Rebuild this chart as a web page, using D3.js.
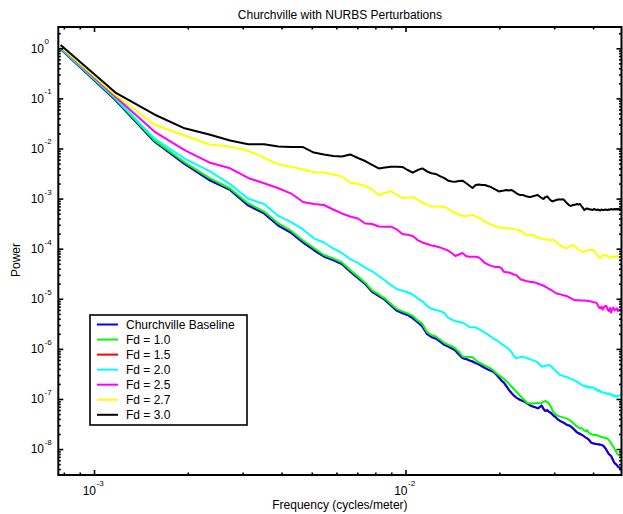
<!DOCTYPE html>
<html>
<head>
<meta charset="utf-8">
<script src="https://cdn.jsdelivr.net/npm/d3@7"></script>
<style>
  body { margin: 0; background: #fff; }
  text { font-family: "Liberation Sans", Arial, Helvetica, sans-serif; fill: #000; }
</style>
</head>
<body>
<svg id="chart" width="623" height="514"></svg>
<script>
// Data ---------------------------------------------------------------------------------------

// spectrum bins 2..126, one bin = 1/2560 cycles/meter
var bins = d3.range(2, 127);
var binWidth = 1 / 2560;
var frequency = bins.map(function(n) { return n * binWidth; });

var baseline = [
  0.97, 0.093, 0.0138, 0.0049, 0.00235, 0.00149, 7.3e-4, 5.05e-4, 2.9e-4, 2.06e-4, 1.33e-4,
  9.4e-5, 7.0e-5, 5.9e-5, 4.95e-5, 3.5e-5, 2.6e-5, 1.97e-5, 1.37e-5, 1.14e-5, 9.5e-6,
  7.35e-6, 5.8e-6, 5.2e-6, 4.75e-6, 4.1e-6, 3.4e-6, 2.8e-6, 1.98e-6, 1.73e-6, 1.61e-6,
  1.41e-6, 1.22e-6, 1.12e-6, 1.02e-6, 9.3e-7, 7.7e-7, 6.6e-7, 6.3e-7, 5.9e-7, 5.6e-7,
  5.2e-7, 4.9e-7, 4.5e-7, 4.2e-7, 3.9e-7, 3.7e-7, 3.5e-7, 3.1e-7, 2.7e-7, 2.35e-7,
  2.1e-7, 1.78e-7, 1.51e-7, 1.32e-7, 1.17e-7, 1.07e-7, 1.0e-7, 9.5e-8, 9.1e-8, 8.7e-8,
  8.1e-8, 7.6e-8, 7.2e-8, 7.0e-8, 6.8e-8, 6.5e-8, 6.9e-8, 7.4e-8, 6.3e-8, 5.75e-8,
  6.0e-8, 5.5e-8, 5.3e-8, 4.8e-8, 4.5e-8, 4.2e-8, 3.9e-8, 3.7e-8, 3.55e-8, 3.4e-8,
  3.25e-8, 3.1e-8, 3.0e-8, 2.95e-8, 2.8e-8, 2.65e-8, 2.45e-8, 2.3e-8, 2.15e-8, 2.07e-8,
  2.0e-8, 1.95e-8, 1.87e-8, 1.78e-8, 1.7e-8, 1.64e-8, 1.56e-8, 1.45e-8, 1.35e-8, 1.31e-8,
  1.29e-8, 1.28e-8, 1.26e-8, 1.25e-8, 1.24e-8, 1.23e-8, 1.21e-8, 1.18e-8, 1.13e-8, 1.05e-8,
  9.6e-9, 8.75e-9, 8.0e-9, 7.6e-9, 7.3e-9, 6.5e-9, 5.8e-9, 5.3e-9, 5.05e-9, 4.8e-9,
  4.5e-9, 4.3e-9, 4.2e-9, 4.1e-9
];

var fd10 = [
  0.99, 0.097, 0.0145, 0.0053, 0.00258, 0.00159, 8.0e-4, 5.5e-4, 3.2e-4, 2.26e-4, 1.46e-4,
  1.03e-4, 7.5e-5, 6.4e-5, 5.3e-5, 3.76e-5, 2.8e-5, 2.1e-5, 1.47e-5, 1.22e-5, 1.01e-5,
  7.9e-6, 6.25e-6, 5.6e-6, 5.1e-6, 4.55e-6, 3.7e-6, 3.15e-6, 2.17e-6, 1.89e-6, 1.77e-6,
  1.54e-6, 1.34e-6, 1.22e-6, 1.13e-6, 1.02e-6, 8.7e-7, 7.05e-7, 6.9e-7, 6.9e-7, 6.8e-7,
  6.0e-7, 5.35e-7, 5.0e-7, 4.65e-7, 4.35e-7, 4.1e-7, 3.7e-7, 3.3e-7, 3.0e-7, 2.75e-7,
  2.5e-7, 2.25e-7, 2.0e-7, 1.78e-7, 1.58e-7, 1.41e-7, 1.26e-7, 1.12e-7, 1.02e-7, 9.1e-8,
  8.3e-8, 8.1e-8, 8.1e-8, 8.1e-8, 8.2e-8, 8.3e-8, 8.2e-8, 8.3e-8, 8.9e-8, 9.1e-8,
  8.7e-8, 8.0e-8, 6.9e-8, 5.75e-8, 5.15e-8, 4.8e-8, 4.6e-8, 4.5e-8, 4.4e-8, 4.3e-8,
  4.2e-8, 4.1e-8, 3.95e-8, 3.8e-8, 3.65e-8, 3.4e-8, 3.2e-8, 2.95e-8, 2.85e-8, 2.7e-8,
  2.6e-8, 2.65e-8, 2.45e-8, 2.35e-8, 2.25e-8, 2.4e-8, 2.15e-8, 2.05e-8, 2.0e-8, 1.95e-8,
  1.9e-8, 1.93e-8, 1.9e-8, 1.87e-8, 1.82e-8, 1.78e-8, 1.74e-8, 1.72e-8, 1.69e-8, 1.67e-8,
  1.65e-8, 1.6e-8, 1.52e-8, 1.42e-8, 1.32e-8, 1.21e-8, 1.1e-8, 1.0e-8, 9.2e-9, 8.4e-9,
  7.8e-9, 7.6e-9, 7.6e-9, 7.45e-9
];

// Fd = 1.5 lies under the baseline trace in the picture
var fd15 = baseline.slice();

var fd20 = [
  1.01, 0.102, 0.0158, 0.0063, 0.00356, 0.00195, 9.9e-4, 7.8e-4, 4.5e-4, 3.4e-4, 2.42e-4,
  1.61e-4, 1.33e-4, 1.01e-4, 8.2e-5, 6.2e-5, 5.2e-5, 4.2e-5, 3.54e-5, 2.85e-5, 2.32e-5,
  1.88e-5, 1.57e-5, 1.45e-5, 1.35e-5, 1.22e-5, 1.02e-5, 8.9e-6, 7.2e-6, 6.3e-6, 6.0e-6,
  5.7e-6, 5.3e-6, 4.25e-6, 3.85e-6, 3.57e-6, 3.44e-6, 3.33e-6, 3.07e-6, 2.74e-6, 2.7e-6,
  2.7e-6, 2.49e-6, 2.28e-6, 2.12e-6, 1.95e-6, 1.77e-6, 1.61e-6, 1.51e-6, 1.39e-6, 1.25e-6,
  1.17e-6, 1.08e-6, 9.7e-7, 8.7e-7, 7.2e-7, 6.5e-7, 6.7e-7, 6.9e-7, 7.0e-7, 6.7e-7,
  6.5e-7, 6.3e-7, 6.05e-7, 5.85e-7, 5.65e-7, 5.35e-7, 4.9e-7, 4.4e-7, 4.5e-7, 4.6e-7,
  4.7e-7, 4.75e-7, 4.55e-7, 4.15e-7, 3.85e-7, 3.55e-7, 3.3e-7, 3.05e-7, 2.95e-7, 2.9e-7,
  2.8e-7, 2.75e-7, 2.7e-7, 2.6e-7, 2.55e-7, 2.45e-7, 2.35e-7, 2.3e-7, 2.2e-7, 2.1e-7,
  2.0e-7, 1.93e-7, 1.85e-7, 1.78e-7, 1.86e-7, 1.7e-7, 1.78e-7, 1.66e-7, 1.74e-7, 1.71e-7,
  1.7e-7, 1.55e-7, 1.58e-7, 1.45e-7, 1.51e-7, 1.4e-7, 1.38e-7, 1.35e-7, 1.32e-7, 1.35e-7,
  1.29e-7, 1.24e-7, 1.3e-7, 1.22e-7, 1.25e-7, 1.16e-7, 1.2e-7, 1.12e-7, 1.16e-7, 1.1e-7,
  1.15e-7, 1.17e-7, 1.2e-7, 1.23e-7
];

var fd25 = [
  1.06, 0.108, 0.0218, 0.0093, 0.00526, 0.00403, 0.00258, 0.00202, 0.00161, 0.00126, 8.55e-4,
  7.8e-4, 7.45e-4, 6.05e-4, 5.05e-4, 4.4e-4, 4.0e-4, 3.18e-4, 3.11e-4, 2.77e-4, 2.75e-4,
  2.75e-4, 2.42e-4, 1.96e-4, 1.9e-4, 1.79e-4, 1.49e-4, 1.33e-4, 1.24e-4, 1.16e-4, 1.12e-4,
  1.06e-4, 9.9e-5, 9.2e-5, 8.2e-5, 7.15e-5, 7.65e-5, 8.2e-5, 7.15e-5, 6.9e-5, 6.9e-5,
  6.9e-5, 6.65e-5, 5.95e-5, 5.2e-5, 4.85e-5, 4.6e-5, 4.4e-5, 4.3e-5, 4.3e-5, 4.1e-5,
  3.45e-5, 3.4e-5, 3.35e-5, 3.2e-5, 3.05e-5, 3.0e-5, 2.7e-5, 2.43e-5, 2.37e-5, 2.3e-5,
  2.23e-5, 2.19e-5, 2.16e-5, 2.13e-5, 2.1e-5, 2.02e-5, 1.95e-5, 1.88e-5, 1.82e-5, 1.74e-5,
  1.66e-5, 1.57e-5, 1.5e-5, 1.43e-5, 1.35e-5, 1.29e-5, 1.26e-5, 1.24e-5, 1.21e-5, 1.18e-5,
  1.16e-5, 1.14e-5, 1.1e-5, 1.06e-5, 1.02e-5, 9.8e-6, 9.45e-6, 9.4e-6, 9.35e-6, 9.3e-6,
  9.25e-6, 9.25e-6, 9.2e-6, 9.2e-6, 9.15e-6, 9.15e-6, 9.05e-6, 8.9e-6, 8.8e-6, 8.65e-6,
  8.55e-6, 8.4e-6, 8.35e-6, 7.5e-6, 6.7e-6, 6.45e-6, 7.0e-6, 6.1e-6, 6.85e-6, 7.2e-6,
  7.2e-6, 6.1e-6, 5.7e-6, 6.55e-6, 5.3e-6, 6.25e-6, 6.7e-6, 5.85e-6, 6.1e-6, 6.45e-6,
  5.7e-6, 6.1e-6, 5.8e-6, 5.85e-6
];

var fd27 = [
  1.09, 0.117, 0.0301, 0.0182, 0.012, 0.0109, 0.009, 0.0066, 0.0048, 0.00434, 0.00381,
  0.00335, 0.00332, 0.00303, 0.00276, 0.0021, 0.00195, 0.00178, 0.00152, 0.00118, 0.00129,
  0.00142, 0.00118, 0.00103, 0.00105, 0.00108, 9.4e-4, 8.35e-4, 7.45e-4, 7.0e-4, 6.95e-4,
  6.9e-4, 6.9e-4, 6.35e-4, 5.55e-4, 5.15e-4, 4.8e-4, 4.55e-4, 4.45e-4, 4.6e-4, 4.7e-4,
  4.4e-4, 4.15e-4, 3.85e-4, 3.5e-4, 3.25e-4, 3.05e-4, 2.9e-4, 2.77e-4, 2.67e-4, 2.6e-4,
  2.6e-4, 2.55e-4, 2.55e-4, 2.5e-4, 2.45e-4, 2.4e-4, 2.35e-4, 2.3e-4, 2.1e-4, 1.92e-4,
  1.88e-4, 1.88e-4, 1.88e-4, 1.87e-4, 1.75e-4, 1.67e-4, 1.61e-4, 1.6e-4, 1.56e-4, 1.53e-4,
  1.51e-4, 1.49e-4, 1.49e-4, 1.49e-4, 1.44e-4, 1.36e-4, 1.27e-4, 1.19e-4, 1.13e-4, 1.08e-4,
  1.03e-4, 1.02e-4, 1.06e-4, 1.11e-4, 1.15e-4, 1.19e-4, 1.16e-4, 1.08e-4, 1.01e-4, 9.65e-5,
  9.2e-5, 8.85e-5, 8.7e-5, 8.85e-5, 9.1e-5, 9.3e-5, 9.4e-5, 9.4e-5, 9.4e-5, 9.4e-5,
  9.2e-5, 8.6e-5, 7.8e-5, 7.15e-5, 6.5e-5, 6.45e-5, 7.0e-5, 7.5e-5, 7.3e-5, 7.4e-5,
  7.5e-5, 7.15e-5, 6.8e-5, 6.5e-5, 6.8e-5, 6.9e-5, 7.0e-5, 6.65e-5, 7.15e-5, 7.0e-5,
  6.8e-5, 7.0e-5, 6.8e-5, 7.0e-5
];

var fd30 = [
  1.16, 0.131, 0.0477, 0.0253, 0.019, 0.01445, 0.0121, 0.0121, 0.011, 0.0107, 0.0107,
  0.0083, 0.0076, 0.0071, 0.0069, 0.0076, 0.00646, 0.00562, 0.00469, 0.004, 0.00418,
  0.00434, 0.00434, 0.00428, 0.00372, 0.00329, 0.00372, 0.004, 0.00348, 0.0032, 0.0031,
  0.00282, 0.00258, 0.0023, 0.00219, 0.00217, 0.00224, 0.00228, 0.00205, 0.00183, 0.00163,
  0.00187, 0.00191, 0.00187, 0.00187, 0.00178, 0.00171, 0.00159, 0.00149, 0.00139, 0.00142,
  0.00145, 0.00149, 0.00145, 0.00149, 0.00139, 0.00129, 0.00121, 0.00118, 0.00118, 0.00113,
  0.0011, 0.00108, 0.00109, 0.00113, 0.00115, 0.00118, 0.0011, 0.00103, 9.8e-4, 0.00108,
  0.0011, 0.001, 9.15e-4, 8.75e-4, 9.15e-4, 9.35e-4, 9.6e-4, 9.6e-4, 9.6e-4, 9.7e-4,
  9.15e-4, 8.35e-4, 7.8e-4, 7.3e-4, 7.1e-4, 7.45e-4, 7.45e-4, 7.6e-4, 7.8e-4, 7.6e-4,
  7.8e-4, 7.1e-4, 6.5e-4, 5.9e-4, 6.2e-4, 6.35e-4, 6.2e-4, 6.05e-4, 6.05e-4, 5.9e-4,
  6.2e-4, 6.05e-4, 5.9e-4, 6.05e-4, 5.9e-4, 5.8e-4, 6.05e-4, 5.9e-4, 5.9e-4, 6.05e-4,
  6.0e-4, 5.9e-4, 6.05e-4, 6.0e-4, 6.2e-4, 6.05e-4, 6.05e-4, 6.2e-4, 6.05e-4, 6.2e-4,
  6.05e-4, 6.2e-4, 6.05e-4, 6.2e-4
];

var seriesNames = ["Churchville Baseline", "Fd = 1.0", "Fd = 1.5", "Fd = 2.0", "Fd = 2.5", "Fd = 2.7", "Fd = 3.0"];
var seriesColors = ["#0000ff", "#00ff00", "#ff0000", "#00ffff", "#ff00ff", "#ffff00", "#000000"];
var seriesValues = [baseline, fd10, fd15, fd20, fd25, fd27, fd30];

var xMajor = [1e-3, 1e-2];
var xMinor = [8e-4, 9e-4, 2e-3, 3e-3, 4e-3, 5e-3, 6e-3, 7e-3, 8e-3, 9e-3, 2e-2, 3e-2, 4e-2];
var yMajor = [1e0, 1e-1, 1e-2, 1e-3, 1e-4, 1e-5, 1e-6, 1e-7, 1e-8];
var yMinor = [];
[-9, -8, -7, -6, -5, -4, -3, -2, -1, 0].forEach(function(k) {
  [2, 3, 4, 5, 6, 7, 8, 9].forEach(function(m) { yMinor.push(m * Math.pow(10, k)); });
});

// Chart --------------------------------------------------------------------------------------

var width = 623, height = 514;
var margin = {top: 27, right: 1.5, bottom: 39, left: 58.3};
var x0 = margin.left, x1 = width - margin.right;
var y0 = height - margin.bottom, y1 = margin.top;

var x = d3.scaleLog().domain([7.68e-4, 4.935e-2]).range([x0, x1]);
var y = d3.scaleLog().domain([3.04e-9, 2.66]).range([y0, y1]);
yMinor = yMinor.filter(function(v) { return v >= y.domain()[0] && v <= y.domain()[1]; });

var svg = d3.select("#chart");

svg.append("defs").append("clipPath").attr("id", "plot-clip")
  .append("rect")
    .attr("x", x0).attr("y", y1)
    .attr("width", x1 - x0).attr("height", y0 - y1);

// lines, Fd = 1.5 first so the baseline sits on it
var drawOrder = [2, 0, 1, 3, 4, 5, 6];
var line = d3.line()
  .x(function(d, i) { return x(frequency[i]); })
  .y(function(d) { return y(d); });

svg.append("g").attr("clip-path", "url(#plot-clip)")
  .selectAll("path")
  .data(drawOrder)
  .enter()
  .append("path")
    .attr("d", function(s) { return line(seriesValues[s]); })
    .attr("fill", "none")
    .attr("stroke", function(s) { return seriesColors[s]; })
    .attr("stroke-width", 2)
    .attr("stroke-linejoin", "round");

// ticks on all four sides, pointing inward
function ticks(axis, values, size) {
  return axis.tickValues(values).tickSize(-size).tickFormat("");
}
function tidy(g) {
  g.select(".domain").remove();
  g.selectAll(".tick line").attr("stroke", "#000").attr("stroke-width", 1.6);
}

[[xMajor, 5], [xMinor, 2.5]].forEach(function(t) {
  svg.append("g").attr("transform", "translate(0," + y0 + ")")
    .call(ticks(d3.axisBottom(x), t[0], t[1])).call(tidy);
  svg.append("g").attr("transform", "translate(0," + y1 + ")")
    .call(ticks(d3.axisTop(x), t[0], t[1])).call(tidy);
});
[[yMajor, 5], [yMinor, 2.5]].forEach(function(t) {
  svg.append("g").attr("transform", "translate(" + x0 + ",0)")
    .call(ticks(d3.axisLeft(y), t[0], t[1])).call(tidy);
  svg.append("g").attr("transform", "translate(" + x1 + ",0)")
    .call(ticks(d3.axisRight(y), t[0], t[1])).call(tidy);
});

svg.append("rect")
  .attr("x", x0).attr("y", y1)
  .attr("width", x1 - x0).attr("height", y0 - y1)
  .attr("fill", "none")
  .attr("stroke", "#000")
  .attr("stroke-width", 2);

// tick labels as 10 with a raised exponent
function exponent(v) { return Math.round(Math.log10(v)); }

var xLab = svg.append("g").selectAll("g").data(xMajor).enter().append("g");
xLab.append("text")
  .attr("x", function(d) { return x(d) + 2; })
  .attr("y", 495)
  .attr("text-anchor", "end")
  .attr("font-size", 12)
  .text("10");
xLab.append("text")
  .attr("x", function(d) { return x(d) + 2.5; })
  .attr("y", 486)
  .attr("font-size", 8)
  .text(function(d) { return exponent(d); });

var yLab = svg.append("g").selectAll("g").data(yMajor).enter().append("g");
yLab.append("text")
  .attr("x", 44)
  .attr("y", function(d) { return y(d) + 4.3; })
  .attr("text-anchor", "end")
  .attr("font-size", 12)
  .text("10");
yLab.append("text")
  .attr("x", 44.5)
  .attr("y", function(d) { return y(d) - 4; })
  .attr("font-size", 8)
  .text(function(d) { return exponent(d); });

// titles
svg.append("text")
  .attr("x", (x0 + x1) / 2).attr("y", 18.5)
  .attr("text-anchor", "middle")
  .attr("font-size", 12)
  .text("Churchville with NURBS Perturbations");

svg.append("text")
  .attr("x", (x0 + x1) / 2).attr("y", 509)
  .attr("text-anchor", "middle")
  .attr("font-size", 12)
  .text("Frequency (cycles/meter)");

svg.append("text")
  .attr("transform", "translate(20," + ((y0 + y1) / 2 + 9) + ") rotate(-90)")
  .attr("text-anchor", "middle")
  .attr("font-size", 12)
  .text("Power");

// legend
var legend = svg.append("g").attr("transform", "translate(90,315)");
legend.append("rect")
  .attr("width", 157).attr("height", 110)
  .attr("fill", "#fff")
  .attr("stroke", "#000")
  .attr("stroke-width", 1.6);

var entry = legend.selectAll(".entry")
  .data(seriesNames)
  .enter()
  .append("g")
    .attr("class", "entry")
    .attr("transform", function(d, i) { return "translate(0," + (9.5 + i * 15.05) + ")"; });

entry.append("line")
  .attr("x1", 7).attr("x2", 28)
  .attr("stroke", function(d, i) { return seriesColors[i]; })
  .attr("stroke-width", 2);

entry.append("text")
  .attr("x", 36).attr("y", 4.3)
  .attr("font-size", 12)
  .text(function(d) { return d; });
</script>
</body>
</html>
